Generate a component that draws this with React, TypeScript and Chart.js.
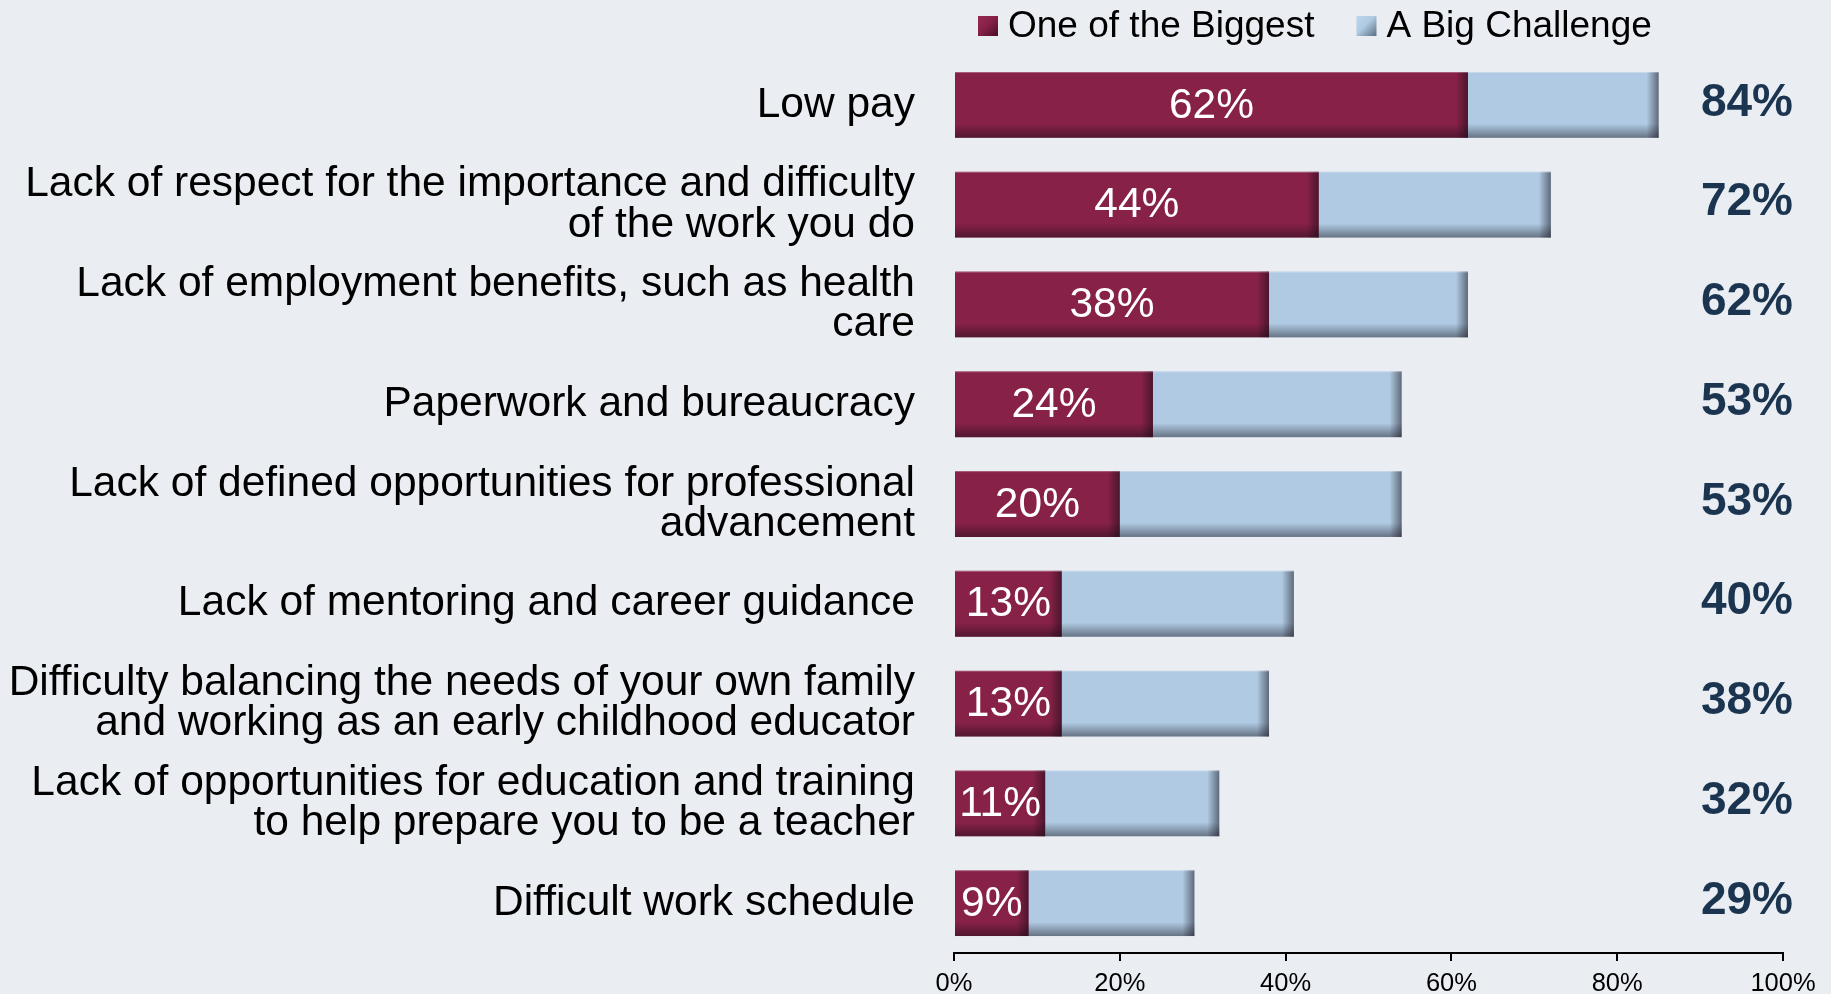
import React, { useEffect, useRef } from "react";
import { Chart, registerables } from "chart.js";

Chart.register(...registerables);

// ---------- data ----------
const categories: (string | string[])[] = [
  "Low pay",
  ["Lack of respect for the importance and difficulty", "of the work you do"],
  ["Lack of employment benefits, such as health", "care"],
  "Paperwork and bureaucracy",
  ["Lack of defined opportunities for professional", "advancement"],
  "Lack of mentoring and career guidance",
  ["Difficulty balancing the needs of your own family", "and working as an early childhood educator"],
  ["Lack of opportunities for education and training", "to help prepare you to be a teacher"],
  "Difficult work schedule",
];
const seriesNames = ["One of the Biggest", "A Big Challenge"];
const biggestValues = [62, 44, 38, 24, 20, 13, 13, 11, 9];
const bigChallengeValues = [23, 28, 24, 30, 34, 28, 25, 21, 20];
const totalLabels = [84, 72, 62, 53, 53, 40, 38, 32, 29];
const xTickStep = 20;
const xMin = 0;
const xMax = 100;

// ---------- styles ----------
const FONT = "'Liberation Sans', Arial, Helvetica, sans-serif";
const BG = "#eaeef3";
const MAROON = "#872147";
const MAROON_LIGHT = "#952a52";
const MAROON_DARK = "#4a0f26";
const BLUE = "#afcae2";
const BLUE_LIGHT = "#bcd6ec";
const BLUE_DARK = "#5b6e80";
const NAVY = "#1b3550";

const seriesColors = [
  { fill: MAROON, light: MAROON_LIGHT, dark: MAROON_DARK },
  { fill: BLUE, light: BLUE_LIGHT, dark: BLUE_DARK },
];

const backgroundPlugin = {
  id: "bgFill",
  beforeDraw(chart: any) {
    const ctx = chart.ctx;
    ctx.save();
    ctx.fillStyle = BG;
    ctx.fillRect(0, 0, chart.width, chart.height);
    ctx.restore();
  },
};

const barDecorPlugin = {
  id: "barDecor",
  afterDatasetsDraw(chart: any) {
    const ctx = chart.ctx;
    ctx.save();
    chart.data.datasets.forEach((ds: any, di: number) => {
      const meta = chart.getDatasetMeta(di);
      meta.data.forEach((el: any) => {
        const p = el.getProps(["x", "y", "base", "height"], true);
        const left = Math.min(p.x, p.base);
        const right = Math.max(p.x, p.base);
        const top = p.y - p.height / 2;
        const bottom = p.y + p.height / 2;
        const w = right - left;
        // bottom shade
        const bs = 14;
        let g = ctx.createLinearGradient(0, bottom - bs, 0, bottom);
        g.addColorStop(0, "rgba(15,10,20,0)");
        g.addColorStop(1, "rgba(15,10,20,0.45)");
        ctx.fillStyle = g;
        ctx.fillRect(left, bottom - bs, w, bs);
        // right shade
        const rs = Math.min(12, w / 3);
        g = ctx.createLinearGradient(right - rs, 0, right, 0);
        g.addColorStop(0, "rgba(15,10,20,0)");
        g.addColorStop(1, "rgba(15,10,20,0.5)");
        ctx.fillStyle = g;
        ctx.fillRect(right - rs, top, rs, p.height);
        // top highlight
        ctx.fillStyle = "rgba(255,255,255,0.28)";
        ctx.fillRect(left, top, w, 1);
      });
    });

    // value labels in first series
    const meta0 = chart.getDatasetMeta(0);
    ctx.fillStyle = "#ffffff";
    ctx.font = `42.5px ${FONT}`;
    ctx.textAlign = "center";
    ctx.textBaseline = "middle";
    meta0.data.forEach((el: any, i: number) => {
      const p = el.getProps(["x", "y", "base"], true);
      ctx.fillText(`${chart.data.datasets[0].data[i]}%`, (p.x + p.base) / 2, p.y + 1);
    });

    // totals on the right
    const metaLast = chart.getDatasetMeta(chart.data.datasets.length - 1);
    ctx.fillStyle = NAVY;
    ctx.font = `bold 46px ${FONT}`;
    ctx.textAlign = "right";
    metaLast.data.forEach((el: any, i: number) => {
      const p = el.getProps(["y"], true);
      ctx.fillText(`${totalLabels[i]}%`, chart.chartArea.right + 10, p.y - 2);
    });
    ctx.restore();
  },
};

const legendPlugin = {
  id: "customLegend",
  afterDraw(chart: any) {
    const ctx = chart.ctx;
    ctx.save();
    ctx.font = `37px ${FONT}`;
    ctx.textBaseline = "middle";
    ctx.textAlign = "left";
    let x = chart.chartArea.left + 24;
    const yc = 26;
    const box = 20;
    chart.data.datasets.forEach((ds: any, i: number) => {
      const c = seriesColors[i];
      const g = ctx.createLinearGradient(x, yc - box / 2, x + box, yc + box / 2);
      g.addColorStop(0, c.light);
      g.addColorStop(0.45, c.fill);
      g.addColorStop(1, c.dark);
      ctx.fillStyle = g;
      ctx.fillRect(x, yc - box / 2, box, box);
      x += box + 10;
      ctx.fillStyle = "#000000";
      ctx.fillText(ds.label, x, yc + 1);
      x += ctx.measureText(ds.label).width + 42;
    });
    ctx.restore();
  },
};

export default function App() {
  const canvasRef = useRef<HTMLCanvasElement | null>(null);

  useEffect(() => {
    document.documentElement.style.overflow = "hidden";
    document.body.style.margin = "0";
    document.body.style.overflow = "hidden";
    document.body.style.background = BG;
    const canvas = canvasRef.current;
    if (!canvas) return;
    const chart = new Chart(canvas, {
      type: "bar",
      data: {
        labels: categories,
        datasets: [
          {
            label: seriesNames[0],
            data: biggestValues,
            backgroundColor: MAROON,
            borderWidth: 0,
            barPercentage: 0.66,
            categoryPercentage: 1,
          },
          {
            label: seriesNames[1],
            data: bigChallengeValues,
            backgroundColor: BLUE,
            borderWidth: 0,
            barPercentage: 0.66,
            categoryPercentage: 1,
          },
        ],
      },
      options: {
        indexAxis: "y",
        responsive: false,
        animation: false,
        devicePixelRatio: 1,
        layout: { padding: { top: 55, left: 8, right: 48, bottom: 0 } },
        plugins: {
          legend: { display: false },
          tooltip: { enabled: false },
        },
        scales: {
          x: {
            stacked: true,
            min: xMin,
            max: xMax,
            position: "bottom",
            border: { display: true, color: "#000000", width: 2 },
            grid: {
              display: true,
              drawOnChartArea: false,
              drawTicks: true,
              tickLength: 8,
              color: "#000000",
              lineWidth: 2,
            },
            ticks: {
              stepSize: xTickStep,
              padding: 8,
              color: "#000000",
              font: { family: FONT, size: 25.5 },
              callback: (v: any) => `${v}%`,
            },
            afterFit: (s: any) => {
              s.height = 59;
            },
          },
          y: {
            stacked: true,
            border: { display: false },
            grid: { display: false, drawTicks: false },
            ticks: {
              autoSkip: false,
              padding: 39,
              color: "#000000",
              font: { family: FONT, size: 42.5, lineHeight: 0.95 },
            },
            afterFit: (s: any) => {
              s.width = 946;
              s.paddingTop = 0;
              s.paddingBottom = 0;
            },
          },
        },
      },
      plugins: [backgroundPlugin, barDecorPlugin, legendPlugin],
    } as any);
    return () => chart.destroy();
  }, []);

  return (
    <div style={{ width: 1831, height: 1012, overflow: "hidden" }}>
      <canvas ref={canvasRef} width={1831} height={1012} style={{ display: "block" }} />
    </div>
  );
}
